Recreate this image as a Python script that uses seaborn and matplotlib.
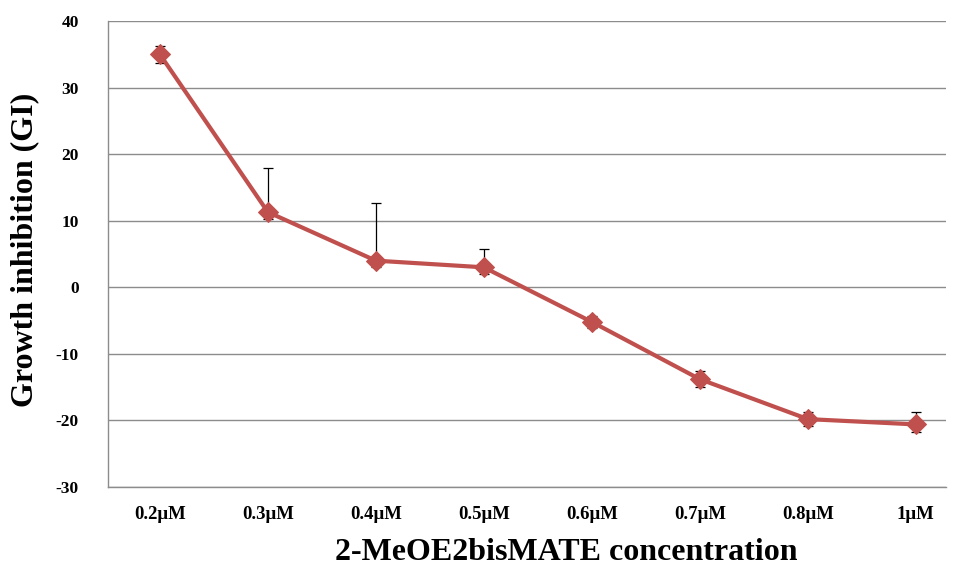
import matplotlib
matplotlib.use("Agg")
import matplotlib.pyplot as plt
import seaborn as sns
import pandas as pd
import numpy as np

categories = ["0.2μM", "0.3μM", "0.4μM", "0.5μM", "0.6μM", "0.7μM", "0.8μM", "1μM"]
gi_values = [35.0, 11.3, 4.0, 3.0, -5.2, -13.8, -19.8, -20.6]
err_upper = [1.3, 6.6, 8.7, 2.7, 0.9, 1.2, 1.0, 1.8]
err_lower = [1.3, 1.1, 1.0, 1.0, 0.9, 1.2, 1.0, 1.2]
y_ticks = [-30, -20, -10, 0, 10, 20, 30, 40]

sns.set_theme(style="white")
plt.rcParams['font.family'] = ['Liberation Serif', 'DejaVu Serif']
plt.rcParams['text.color'] = 'black'
plt.rcParams['xtick.color'] = 'black'
plt.rcParams['ytick.color'] = 'black'

fig = plt.figure(figsize=(9.56, 5.71), dpi=100)
ax = fig.add_axes([108/956, 84/571, 838/956, 466/571])

df = pd.DataFrame({"conc": categories, "gi": gi_values, "pos": np.arange(len(categories))})

xpos = df["pos"].to_numpy()
ax.errorbar(xpos, gi_values, yerr=[err_lower, err_upper], fmt="none",
            ecolor="black", elinewidth=0.9, capsize=3.6, capthick=0.9, zorder=3)
sns.lineplot(data=df, x="pos", y="gi", ax=ax, color="#C0504D", linewidth=3.0,
             marker="D", markersize=10, markeredgecolor="#C0504D", sort=False, zorder=4)

ax.set_xlim(-0.48, 7.28)
ax.set_ylim(-30, 40)
ax.set_yticks(y_ticks)
ax.set_yticklabels([str(t) for t in y_ticks], fontsize=12.5, fontweight="bold", color="black")
ax.set_xticks(xpos)
ax.set_xticklabels(categories, fontsize=13.5, fontweight="bold", color="black")
ax.tick_params(axis="both", length=0)
ax.tick_params(axis="y", pad=21)
ax.tick_params(axis="x", pad=14)

ax.grid(axis="y", color="#8c8c8c", linewidth=1.0)
ax.grid(axis="x", visible=False)
ax.set_axisbelow(True)
for s in ["top", "right"]:
    ax.spines[s].set_visible(False)
for s in ["left", "bottom"]:
    ax.spines[s].set_color("#8c8c8c")
    ax.spines[s].set_linewidth(1.0)

ax.set_xlabel("")
ax.set_ylabel("")
fig.text(566/956, 1 - 553/571, "2-MeOE2bisMATE concentration", ha="center", va="center",
         fontsize=23, fontweight="bold", color="black")
fig.text(25/956, 1 - 250/571, "Growth inhibition (GI)", ha="center", va="center",
         rotation=90, fontsize=23, fontweight="bold", color="black")

fig.savefig("out.png", dpi=100)
